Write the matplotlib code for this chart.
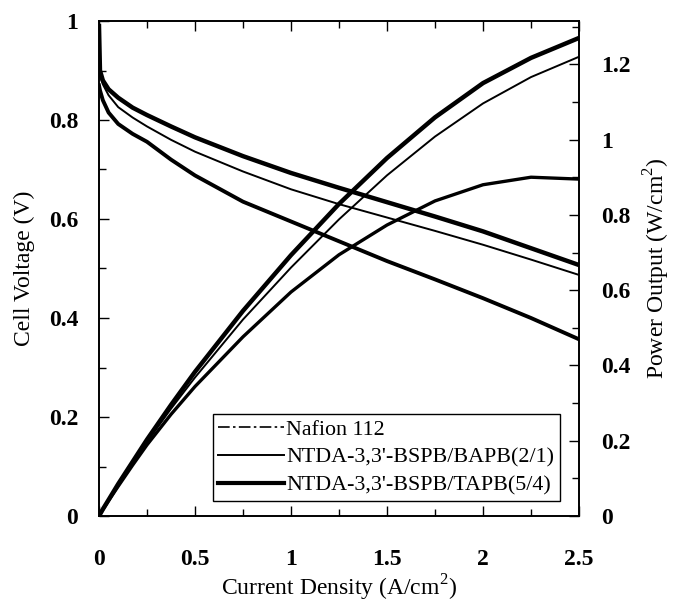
import matplotlib
matplotlib.use("Agg")
import matplotlib.pyplot as plt
from matplotlib.lines import Line2D
from matplotlib.ticker import MultipleLocator, FuncFormatter

plt.rcParams['font.family'] = ['Liberation Serif', 'DejaVu Serif']
plt.rcParams['mathtext.fontset'] = 'custom'
plt.rcParams['mathtext.rm'] = 'Liberation Serif'

# Current density (A/cm2)
current = [0, 0.005, 0.02, 0.05, 0.1, 0.175, 0.25, 0.375, 0.5, 0.75,
           1.0, 1.25, 1.5, 1.75, 2.0, 2.25, 2.5]

# Cell voltage (V)
v_tapb = [0.99, 0.9, 0.88, 0.862, 0.845, 0.825, 0.81, 0.787, 0.765, 0.727,
          0.693, 0.663, 0.634, 0.605, 0.575, 0.541, 0.507]
v_bapb = [0.895, 0.888, 0.872, 0.85, 0.826, 0.805, 0.787, 0.76, 0.736, 0.696,
          0.66, 0.63, 0.603, 0.576, 0.548, 0.518, 0.487]
v_nafion = [0.87, 0.86, 0.84, 0.815, 0.792, 0.772, 0.756, 0.72, 0.688, 0.635,
            0.595, 0.555, 0.515, 0.478, 0.44, 0.40, 0.357]

# Power output (W/cm2)
p_tapb = [0, 0.0045, 0.018, 0.043, 0.085, 0.144, 0.203, 0.295, 0.383, 0.545,
          0.693, 0.829, 0.951, 1.059, 1.15, 1.217, 1.27]
p_bapb = [0, 0.0044, 0.0174, 0.043, 0.083, 0.141, 0.197, 0.285, 0.368, 0.522,
          0.66, 0.788, 0.905, 1.008, 1.096, 1.166, 1.22]
p_nafion = [0, 0.0043, 0.017, 0.041, 0.079, 0.135, 0.189, 0.27, 0.344, 0.476,
            0.595, 0.694, 0.773, 0.837, 0.88, 0.90, 0.895]

labels = ["Nafion 112", "NTDA-3,3'-BSPB/BAPB(2/1)", "NTDA-3,3'-BSPB/TAPB(5/4)"]

fig = plt.figure(figsize=(6.76, 6.08), dpi=100)
ax = fig.add_axes([99 / 676, 1 - 516 / 608, 480 / 676, 495 / 608])
ax2 = ax.twinx()

k = 'black'
ax.plot(current, v_nafion, color=k, lw=2.8, solid_joinstyle='round')
ax.plot(current, v_bapb, color=k, lw=1.4)
ax.plot(current, v_tapb, color=k, lw=3.2, solid_joinstyle='round')
ax2.plot(current, p_nafion, color=k, lw=2.4)
ax2.plot(current, p_bapb, color=k, lw=1.4)
ax2.plot(current, p_tapb, color=k, lw=3.2)

ax.set_xlim(0, 2.5)
ax.set_ylim(0, 1.0)
ax2.set_ylim(0, 1.315)

ax.xaxis.set_major_locator(MultipleLocator(0.5))
ax.xaxis.set_minor_locator(MultipleLocator(0.25))
ax.yaxis.set_major_locator(MultipleLocator(0.2))
ax.yaxis.set_minor_locator(MultipleLocator(0.1))
ax2.yaxis.set_major_locator(MultipleLocator(0.2))
ax2.yaxis.set_minor_locator(MultipleLocator(0.1))

fmt = FuncFormatter(lambda v, p: f"{v:g}")
ax.xaxis.set_major_formatter(fmt)
ax.yaxis.set_major_formatter(fmt)
ax2.yaxis.set_major_formatter(fmt)

fs = 17
ax.tick_params(axis='x', which='both', direction='in', top=True, bottom=True,
               labelsize=fs, pad=24)
ax.tick_params(axis='x', which='major', length=7, width=1)
ax.tick_params(axis='x', which='minor', length=5, width=1)
ax.tick_params(axis='y', which='both', direction='in', right=False,
               labelsize=fs, pad=15)
ax.tick_params(axis='y', which='major', length=7, width=1)
ax.tick_params(axis='y', which='minor', length=5, width=1)
ax2.tick_params(axis='y', which='both', direction='in', labelsize=fs, pad=16)
ax2.tick_params(axis='y', which='major', length=7, width=1)
ax2.tick_params(axis='y', which='minor', length=5, width=1)

for lab in ax.get_xticklabels() + ax.get_yticklabels() + ax2.get_yticklabels():
    lab.set_fontweight('bold')

for a in (ax, ax2):
    for s in a.spines.values():
        s.set_linewidth(1.2)

ax.set_xlabel('Current Density (A/cm$^2$)', fontsize=17, labelpad=2)
ax.set_ylabel('Cell Voltage (V)', fontsize=17, labelpad=10)
ax2.set_ylabel('Power Output (W/cm$^2$)', fontsize=17, labelpad=8)

handles = [Line2D([], [], color=k, lw=1.2, linestyle=(0, (7, 2, 1.5, 2))),
           Line2D([], [], color=k, lw=1.4),
           Line2D([], [], color=k, lw=3.0)]
leg = ax.legend(handles, labels, loc='lower right', bbox_to_anchor=(0.96, 0.03),
                fontsize=15.8, frameon=True, fancybox=False, framealpha=1,
                edgecolor='black', handlelength=3.0, handletextpad=0.1,
                borderpad=0.25, labelspacing=0.35, borderaxespad=0)
leg.get_frame().set_linewidth(1.0)

fig.savefig('out.png', dpi=100)
